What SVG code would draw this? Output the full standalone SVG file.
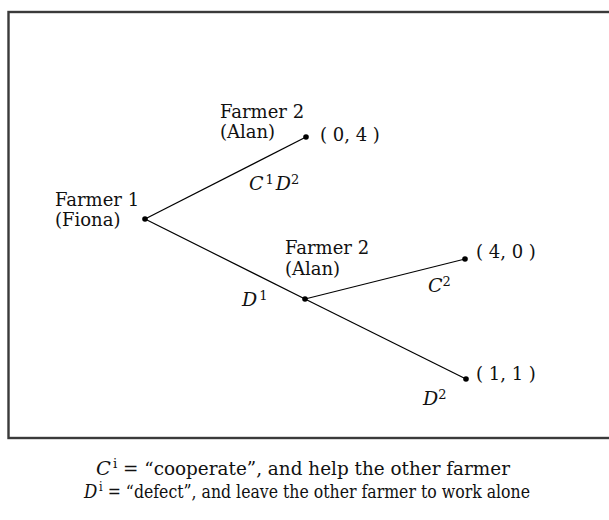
<svg xmlns="http://www.w3.org/2000/svg" width="609" height="520" viewBox="0 0 609 520">
<style>
text{font-family:"DejaVu Serif","Liberation Serif",serif;font-size:18px;fill:#111}
.v{font-style:italic;font-size:19px}
.s{font-size:13px}
.edge{stroke:#000;stroke-width:1.2;fill:none}
.dot{fill:#000}
</style>
<rect x="8.5" y="12" width="620" height="426" fill="#fff" stroke="#3a3a3a" stroke-width="2.4"/>
<g id="connectors">
<line class="edge" x1="145" y1="219" x2="306" y2="137"/>
<line class="edge" x1="145" y1="219" x2="305" y2="299"/>
<line class="edge" x1="305" y1="299" x2="465" y2="259"/>
<line class="edge" x1="305" y1="299" x2="466" y2="379"/>
<text x="249" y="190"><tspan class="v">C</tspan><tspan class="s" dy="-6" dx="2">1</tspan><tspan class="v" dy="6" dx="2">D</tspan><tspan class="s" dy="-6">2</tspan></text>
<text x="242" y="306"><tspan class="v">D</tspan><tspan class="s" dy="-6" dx="2">1</tspan></text>
<text x="428" y="292"><tspan class="v">C</tspan><tspan class="s" dy="-6">2</tspan></text>
<text x="423" y="405"><tspan class="v">D</tspan><tspan class="s" dy="-6">2</tspan></text>
</g>
<g id="farmer1">
<circle class="dot" cx="145" cy="219" r="2.8"/>
<text x="55" y="206">Farmer 1</text>
<text x="55" y="226">(Fiona)</text>
</g>
<g id="farmer2-top">
<circle class="dot" cx="306" cy="137" r="2.8"/>
<text x="220" y="118">Farmer 2</text>
<text x="220" y="138">(Alan)</text>
</g>
<g id="payoff-04">
<text x="320" y="141">( 0, 4 )</text>
</g>
<g id="farmer2-mid">
<circle class="dot" cx="305" cy="299" r="2.8"/>
<text x="285" y="254">Farmer 2</text>
<text x="285" y="275">(Alan)</text>
</g>
<g id="payoff-40">
<circle class="dot" cx="465" cy="259" r="2.8"/>
<text x="476" y="258">( 4, 0 )</text>
</g>
<g id="payoff-11">
<circle class="dot" cx="466" cy="379" r="2.8"/>
<text x="476" y="380">( 1, 1 )</text>
</g>
<g id="legend">
<text x="96" y="475" textLength="414" lengthAdjust="spacingAndGlyphs"><tspan class="v">C</tspan><tspan class="s" dy="-7" dx="2">i</tspan><tspan dy="7"> = “cooperate”, and help the other farmer</tspan></text>
<text x="84" y="498" textLength="446" lengthAdjust="spacingAndGlyphs"><tspan class="v">D</tspan><tspan class="s" dy="-7" dx="2">i</tspan><tspan dy="7"> = “defect”, and leave the other farmer to work alone</tspan></text>
</g>
</svg>
